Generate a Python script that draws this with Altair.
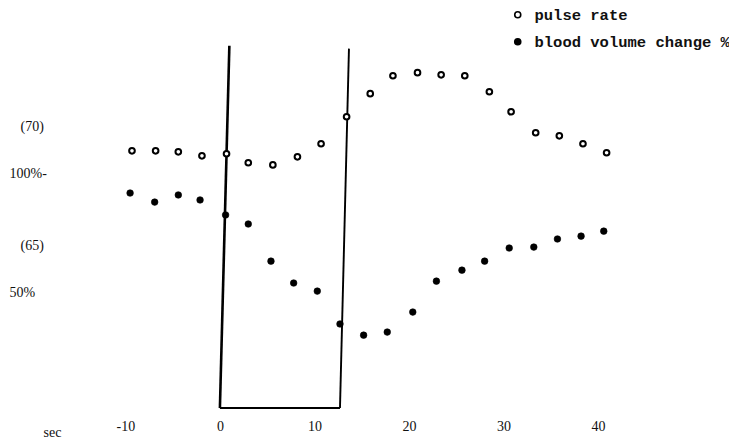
import altair as alt
import pandas as pd

# ---- data ----
series_names = ["pulse rate", "blood volume change %"]

pulse_t = [-9.3, -6.8, -4.4, -1.9, 0.7, 3.0, 5.6, 8.2, 10.7, 13.4, 15.9,
           18.3, 20.9, 23.4, 25.9, 28.5, 30.8, 33.4, 35.9, 38.4, 40.9]
pulse_rate = [68.99, 68.99, 68.95, 68.78, 68.87, 68.49, 68.40, 68.74, 69.29, 70.42, 71.39,
              72.14, 72.27, 72.18, 72.14, 71.47, 70.63, 69.75, 69.62, 69.29, 68.91]

blood_t = [-9.5, -6.9, -4.4, -2.1, 0.6, 3.0, 5.4, 7.8, 10.3, 12.7, 15.2,
           17.7, 20.4, 22.9, 25.6, 28.0, 30.6, 33.2, 35.7, 38.2, 40.6]
blood_pct = [91.6, 87.8, 90.8, 88.7, 82.4, 78.6, 63.0, 53.8, 50.4, 36.6, 31.9,
             33.2, 41.6, 54.6, 59.2, 63.0, 68.5, 68.9, 72.3, 73.5, 75.6]

x_ticks = [-10, 0, 10, 20, 30, 40]
pulse_ticks = [65, 70]
blood_ticks = [50, 100]

# stimulus box (sec, pulse units)
box_left_t = [1.0, 0.0]      # top, bottom
box_right_t = [13.65, 12.7]  # top, bottom
box_top = [73.4, 73.28]      # left, right
box_bottom = 58.2

x_domain = [-13, 53]
pulse_domain = [58.2, 74.565]
blood_domain = [1.3, 165.14]

# ---- tables ----
pulse_df = pd.DataFrame({"t": pulse_t, "v": pulse_rate, "series": series_names[0]})
blood_df = pd.DataFrame({"t": blood_t, "v": blood_pct, "series": series_names[1]})
left_df = pd.DataFrame({"t": [box_left_t[0]], "t_end": [box_left_t[1]],
                        "y": [box_top[0]], "y_end": [box_bottom]})
right_df = pd.DataFrame({"t": [box_right_t[0]], "t_end": [box_right_t[1]],
                         "y": [box_top[1]], "y_end": [box_bottom]})
bottom_df = pd.DataFrame({"t": [box_left_t[1]], "t_end": [box_right_t[1]],
                          "y": [box_bottom], "y_end": [box_bottom]})

SERIF = "Liberation Serif"
MONO = "Liberation Mono"

xs = alt.Scale(domain=x_domain, nice=False, zero=False)
ps = alt.Scale(domain=pulse_domain, nice=False, zero=False)
bs = alt.Scale(domain=blood_domain, nice=False, zero=False)
fill_scale = alt.Scale(domain=series_names, range=["white", "black"])

x_axis = alt.Axis(values=x_ticks, domain=False, ticks=False, grid=False,
                  labelExpr="datum.value < 0 ? '-' + abs(datum.value) : '' + datum.value",
                  labelFont=SERIF, labelFontSize=14, labelColor="#111",
                  labelPadding=11, labelFlush=False,
                  title="sec", titleFont=SERIF, titleFontSize=14,
                  titleFontWeight="normal", titleColor="#111",
                  titleX=-45, titleY=24, titleAlign="center",
                  titleBaseline="middle")

X = alt.X("t:Q", scale=xs, axis=x_axis)

legend = alt.Legend(orient="none", legendX=413, legendY=-11, title=None,
                    direction="vertical",
                    labelFont=MONO, labelFontWeight="bold", labelFontSize=15.5,
                    labelColor="#111", labelOffset=9, labelLimit=400,
                    symbolType="circle", symbolSize=36,
                    symbolStrokeColor="black", symbolStrokeWidth=1.6,
                    rowPadding=10)

pulse = alt.Chart(pulse_df).mark_circle(
    size=32, stroke="black", strokeWidth=2.0, opacity=1
).encode(
    x=X,
    y=alt.Y("v:Q", scale=ps,
            axis=alt.Axis(values=pulse_ticks, orient="left",
                          labelExpr="'(' + datum.value + ')'",
                          domain=False, ticks=False, grid=False,
                          labelAlign="left", labelPadding=77,
                          labelFont=SERIF, labelFontSize=14, labelColor="#111",
                          title=None)),
    fill=alt.Fill("series:N", scale=fill_scale, legend=legend),
)

blood = alt.Chart(blood_df).mark_circle(
    size=44, stroke="black", strokeWidth=0.6, opacity=1
).encode(
    x=X,
    y=alt.Y("v:Q", scale=bs,
            axis=alt.Axis(values=blood_ticks, orient="left",
                          labelExpr="datum.value == 100 ? '100%-' : datum.value + '%'",
                          domain=False, ticks=False, grid=False,
                          labelAlign="left", labelPadding=88,
                          labelFont=SERIF, labelFontSize=14, labelColor="#111",
                          title=None)),
    fill=alt.Fill("series:N", scale=fill_scale, legend=legend),
)


def box_rule(df, width):
    return alt.Chart(df).mark_rule(color="black", strokeWidth=width).encode(
        x=X, x2="t_end:Q",
        y=alt.Y("y:Q", scale=ps, axis=None), y2="y_end:Q",
    )


chart = alt.layer(
    box_rule(left_df, 2.6),
    box_rule(right_df, 1.9),
    box_rule(bottom_df, 2.0),
    pulse,
    blood,
).resolve_scale(y="independent").properties(
    width=624, height=390,
    autosize=alt.AutoSizeParams(type="none"),
    padding={"left": 89, "top": 10, "right": 8, "bottom": 31},
    background="white",
).configure_view(stroke=None)

chart.save("out.html", embed_options={"renderer": "svg", "actions": False})
